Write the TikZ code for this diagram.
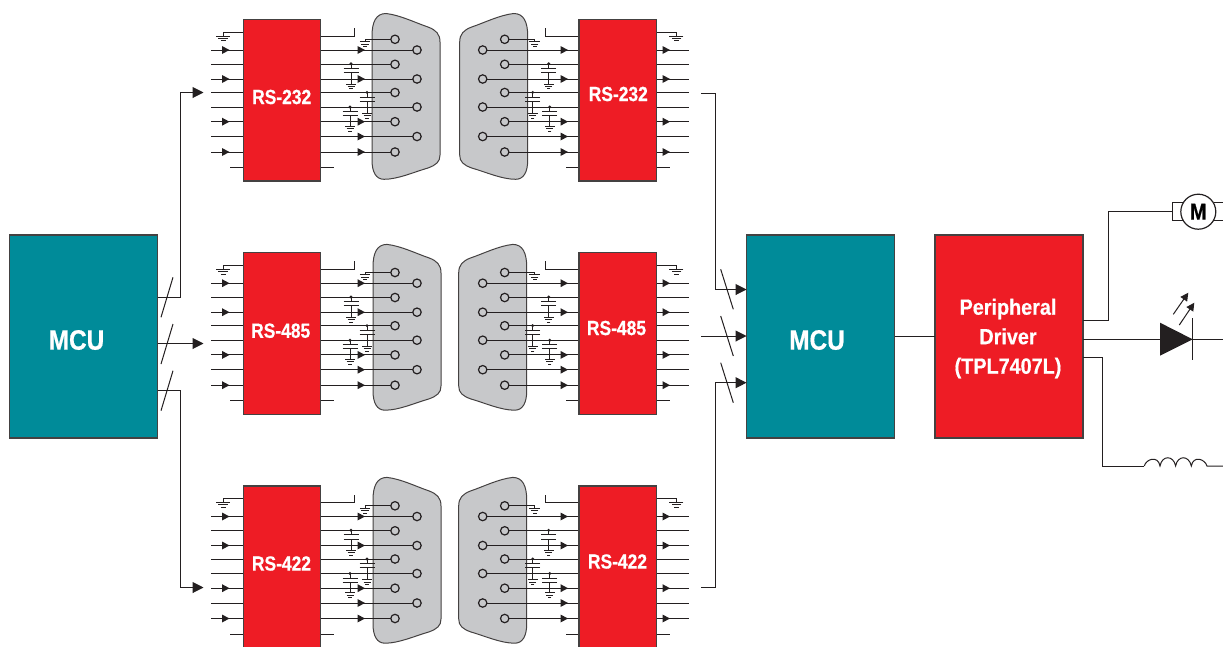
\documentclass[tikz,border=0pt]{standalone}
\usepackage{fontspec}
\usetikzlibrary{arrows.meta}
\newfontfamily\lblfont[FakeStretch=0.85,FakeBold=0.6]{Liberation Sans Bold}
\newfontfamily\mcufont[FakeStretch=0.87,FakeBold=0.6]{Liberation Sans Bold}
\newfontfamily\drvfont[FakeStretch=0.90,FakeBold=0.5]{Liberation Sans Bold}
\definecolor{teal1}{HTML}{008B99}
\definecolor{red1}{HTML}{EE1C25}
\definecolor{ink}{HTML}{231F20}
\definecolor{shellgray}{HTML}{C7C8CA}
\tikzset{
  wire/.style={draw=ink,line width=1pt},
  thick wire/.style={draw=ink,line width=1pt},
  edge box/.style={draw=ink!85,line width=1.4pt,inner sep=0pt,outer sep=0pt},
  rsbox/.style={edge box,fill=red1,minimum width=77.5pt,minimum height=161.5pt},
  bigteal/.style={edge box,fill=teal1,minimum width=148pt,minimum height=203pt},
  bigred/.style={edge box,fill=red1,minimum width=148pt,minimum height=203pt},
  rslabel/.style={text=white,font=\lblfont\fontsize{20.5}{21}\selectfont,inner sep=0pt},
  mculabel/.style={text=white,font=\mcufont\fontsize{28}{30}\selectfont,inner sep=0pt},
  drvlabel/.style={text=white,font=\drvfont\fontsize{22}{29.5}\selectfont,align=center,inner sep=0pt},
  shell/.style={draw=ink!85,fill=shellgray,line width=1pt},
  pinring/.style={draw=ink,fill=shellgray,line width=1.2pt},
  main/.style={wire,-{Triangle[length=11pt,width=11pt]}},
  slash/.style={draw=ink,line width=1pt},
}
\newcommand\gndsym[3]{% x, y, width
  \draw[wire] (#1-#3/2,#2) -- (#1+#3/2,#2);
  \draw[wire] (#1-#3/2*0.7,#2+2.4) -- (#1+#3/2*0.7,#2+2.4);
  \draw[wire] (#1-#3/2*0.35,#2+4.8) -- (#1+#3/2*0.35,#2+4.8);
}
\newcommand\capsym[5]{% x, top, plate1, plate2, ground
  \fill[ink] (#1,#2) circle (1.6);
  \draw[wire] (#1,#2) -- (#1,#3);
  \draw[wire] (#1-7.5,#3) -- (#1+7.5,#3);
  \draw[wire] (#1-7.5,#4) -- (#1+7.5,#4);
  \draw[wire] (#1,#4) -- (#1,#5);
  \gndsym{#1}{#5}{10}
}
\newcommand\halfunit[3]{% box name, shell dx, shell dy
  \begin{scope}[shift={(#2,#3)}]
    \draw[shell] (372,36) .. controls (372,22) and (376,13.5) .. (386,13.5)
      .. controls (400,15) and (416,23) .. (428,27)
      .. controls (436,30) and (440,34) .. (440,42) -- (440,155)
      .. controls (440,162) and (436,165) .. (428,168)
      .. controls (414,172) and (398,179.3) .. (384,179.3)
      .. controls (376,179.3) and (372,172) .. (372,160) -- cycle;
  \end{scope}
  \foreach \yy in {50,64.3,79,92.5,107,121.7,136.5,152}
    \draw[wire] (211,\yy) -- (243,\yy);
  \draw[wire] (230,167.5) -- (243,167.5);
  \draw[wire] (243,32) -- (223.3,32) -- (223.3,36);
  \gndsym{223.3}{36}{14}
  \draw[wire] (321,36) -- (354,36) -- (354,28);
  \draw[wire] (321,167.5) -- (334,167.5);
  \foreach \yy in {50,79,107,136.5}
    \draw[thick wire] (321,\yy) -- (417,\yy);
  \foreach \yy in {64.3,92.5,121.7,152}
    \draw[thick wire] (321,\yy) -- (395,\yy);
  \draw[wire] (395,39.3) -- (365,39.3) -- (365,41.7);
  \gndsym{365}{41.7}{10.5}
  \capsym{351}{63.8}{68.4}{72.6}{84}
  \capsym{367}{92.4}{97.2}{101}{113.3}
  \capsym{350}{107}{111.7}{115.7}{126.3}
  \foreach \yy in {39.3,64.3,92.5,121.7,152}
    \draw[pinring] (395,\yy) circle (4.2);
  \foreach \yy in {50,79,107,136.5}
    \draw[pinring] (417,\yy) circle (4.2);
  \node[rsbox] (#1) at (282,100.25) {};
}
\newcommand\tip[2]{\fill[ink] (#1,#2) -- (#1-7.5,#2-4) -- (#1-7.5,#2+4) -- cycle;}
\newcommand\unitarrows{%
  \foreach \yy in {50,79,121.7,152} {\tip{229.5}{\yy}\tip{670}{\yy}}
  \foreach \yy in {50,79,121.7,136.5,152} {\tip{365}{\yy}\tip{568}{\yy}}
}
\begin{document}
\begin{tikzpicture}[x=1pt,y=-1pt]
\useasboundingbox (0,0) rectangle (1223,646);
\clip (0,0) rectangle (1223,646);
% serial units
\begin{scope}
  \halfunit{boxAl}{0}{0}
  \begin{scope}[xshift=899.7pt,xscale=-1]\halfunit{boxAr}{0}{0}\end{scope}
  \unitarrows
\end{scope}
\begin{scope}[yshift=-233.2pt]
  \halfunit{boxBl}{1}{-2.3}
  \begin{scope}[xshift=899.7pt,xscale=-1]\halfunit{boxBr}{1}{-2.3}\end{scope}
  \unitarrows
\end{scope}
\begin{scope}[yshift=-466.5pt]
  \halfunit{boxCl}{1}{-2.6}
  \begin{scope}[xshift=899.7pt,xscale=-1]\halfunit{boxCr}{1}{-2.6}\end{scope}
  \unitarrows
\end{scope}
\node[rslabel] (lAl) at (281.7,97) {RS-232};
\node[rslabel] (lAr) at (618.3,94) {RS-232};
\node[rslabel] (lBl) at (280.7,330.7) {RS-485};
\node[rslabel] (lBr) at (616.5,328) {RS-485};
\node[rslabel] (lCl) at (281.5,563.5) {RS-422};
\node[rslabel] (lCr) at (617.5,561.5) {RS-422};
% large blocks
\node[bigteal] (mcua) at (83.5,336.5) {};
\node[mculabel] (mcuatext) at (76.5,340) {MCU};
\node[bigteal] (mcub) at (820.5,336.5) {};
\node[mculabel] (mcubtext) at (817,340) {MCU};
\node[bigred] (drv) at (1009,336.5) {};
\node[drvlabel] (drvtext) at (1008,338.5) {Peripheral\\Driver\\(TPL7407L)};
% left bus
\coordinate (aT) at (157.5,297);
\coordinate (aM) at (157.5,343.5);
\coordinate (aB) at (157.5,390);
\coordinate (inT) at (203.5,92.5);
\coordinate (inM) at (203.5,343.5);
\coordinate (inB) at (203.5,587.5);
\draw[main] (aT) -- (180.7,297) |- (inT);
\draw[main] (aM) -- (inM);
\draw[main] (aB) -- (180.7,390) |- (inB);
\draw[slash] (173,277.3) -- (161,317.3);
\draw[slash] (173,324) -- (161,364);
\draw[slash] (173,370.7) -- (161,410.7);
% right bus
\coordinate (oT) at (701,93);
\coordinate (oM) at (701,336);
\coordinate (oB) at (701,587.5);
\coordinate (bT) at (746.5,289.5);
\coordinate (bM) at (746.5,336);
\coordinate (bB) at (746.5,382.7);
\draw[main] (oT) -- (715.7,93) |- (bT);
\draw[main] (oM) -- (bM);
\draw[main] (oB) -- (715.7,587.5) |- (bB);
\draw[slash] (720.7,269.3) -- (733.3,309.3);
\draw[slash] (720.7,316) -- (733.3,356);
\draw[slash] (720.7,362.7) -- (733.3,402.7);
% MCU to driver
\draw[wire] (mcub.east) ++(0,-0.5) -- (drv.west |- 0,336);
% motor
\node[circle,draw=ink,line width=1.2pt,fill=white,minimum size=35pt,inner sep=0pt,
      font=\mcufont\fontsize{23}{24}\selectfont] (motor) at (1198.3,211.7) {M};
\coordinate (mL) at (1172.3,211.7);
\draw[wire] (1083,320.7) -- (1108.3,320.7) |- (mL);
\draw[wire] (1183,202.9) -- (1172.3,202.9) -- (1172.3,220.3) -- (1183,220.3);
\draw[wire] (1214,202.9) -- (1223,202.9);
\draw[wire] (1214,220.3) -- (1223,220.3);
% LED
\coordinate (ledA) at (1160,339.3);
\coordinate (ledK) at (1192.7,339.3);
\coordinate (ledEnd) at (1223,339.3);
\draw[wire] (1083,339.3) -- (ledA);
\fill[ink] (1160,322.7) -- (1160,355.7) -- (ledK) -- cycle;
\draw[wire] (1192.7,318.3) -- (1192.7,360);
\draw[wire] (ledK) -- (ledEnd);
\draw[wire,-{Triangle[length=8pt,width=8pt]}] (1173.3,314.3) -- (1188.3,292.7);
\draw[wire,-{Triangle[length=8pt,width=8pt]}] (1179.3,325) -- (1194.3,302.7);
% inductor
\coordinate (lA) at (1144.3,466);
\coordinate (lB) at (1207,466);
\coordinate (lEnd) at (1223,466);
\draw[wire] (1083,357.3) -- (1102.3,357.3) |- (lA);
\draw[wire] (lA)
  .. controls (1146,459) and (1158,455) .. (1160,466)
  .. controls (1162,455) and (1173.5,455) .. (1175.6,466)
  .. controls (1177.6,455) and (1189,455) .. (1191.3,466)
  .. controls (1193.3,455) and (1205,459) .. (lB) -- (lEnd);
\end{tikzpicture}
\end{document}
